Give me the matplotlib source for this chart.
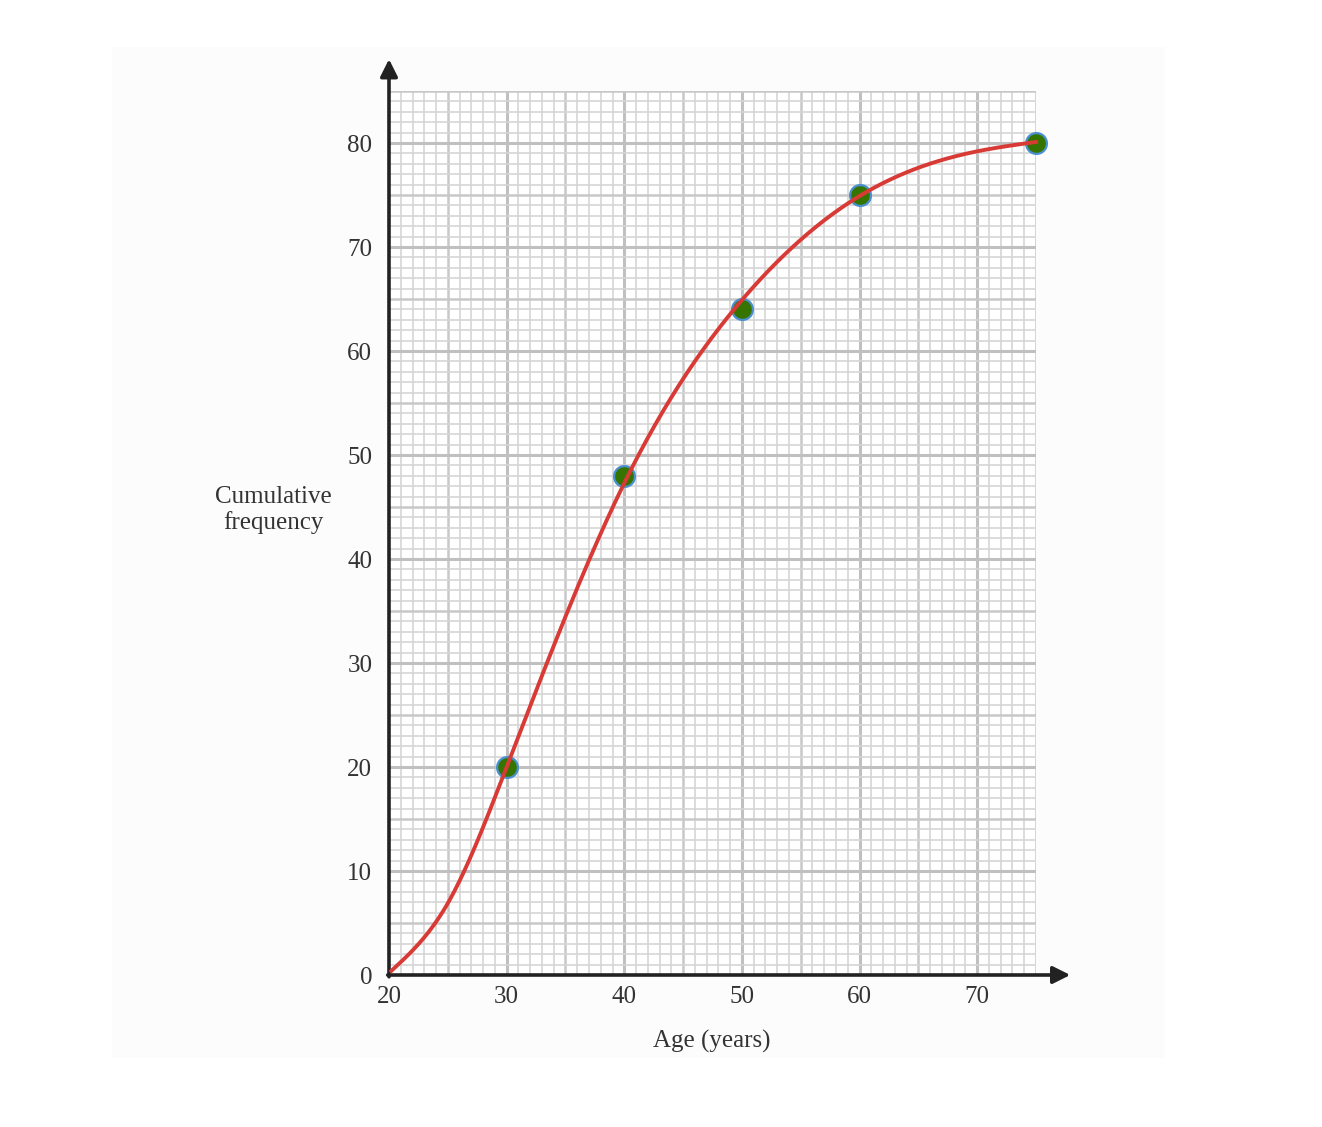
import numpy as np
import matplotlib
matplotlib.use('Agg')
import matplotlib.pyplot as plt
from matplotlib.patches import Rectangle

# data points (age, cumulative frequency)
ages = [30, 40, 50, 60, 75]
cum_freq = [20, 48, 64, 75, 80]

# hand-drawn curve, a few points
curve_x = [20.2, 25, 30, 40, 50, 60, 70, 75]
curve_y = [0.4, 6.9, 20, 47.3, 64.9, 74.9, 79.2, 80.1]

x_ticks = [20, 30, 40, 50, 60, 70]
y_ticks = [0, 10, 20, 30, 40, 50, 60, 70, 80]


def natural_spline(x, y, xn):
    x = np.asarray(x, float)
    y = np.asarray(y, float)
    n = len(x)
    h = np.diff(x)
    A = np.zeros((n, n))
    b = np.zeros(n)
    A[0, 0] = A[-1, -1] = 1
    for i in range(1, n - 1):
        A[i, i - 1] = h[i - 1]
        A[i, i] = 2 * (h[i - 1] + h[i])
        A[i, i + 1] = h[i]
        b[i] = 6 * ((y[i + 1] - y[i]) / h[i] - (y[i] - y[i - 1]) / h[i - 1])
    M = np.linalg.solve(A, b)
    idx = np.clip(np.searchsorted(x, xn) - 1, 0, n - 2)
    hi = h[idx]
    a = (x[idx + 1] - xn) / hi
    c = (xn - x[idx]) / hi
    return (a * y[idx] + c * y[idx + 1]
            + ((a**3 - a) * M[idx] + (c**3 - c) * M[idx + 1]) * hi**2 / 6)


plt.rcParams['font.family'] = ['Liberation Serif', 'DejaVu Serif']

W, H = 1322, 1127
fig = plt.figure(figsize=(W / 100, H / 100), dpi=100)
fig.patches.append(Rectangle((112 / W, 1 - 1058 / H), (1165 - 112) / W, (1058 - 47) / H,
                             transform=fig.transFigure, facecolor='#fcfcfc', edgecolor='none', zorder=-5))

ax = fig.add_axes([389 / W, (H - 975) / H, 647 / W, 884 / H])
ax.set_zorder(2)
ax.set_facecolor('white')
ax.set_xlim(20, 75)
ax.set_ylim(0, 85)

# graph paper grid
for v in np.arange(21, 76):
    if v % 10 == 0:
        ax.axvline(v, color='#c0c0c0', lw=2.2, zorder=1)
    elif v % 5 == 0:
        ax.axvline(v, color='#c8c8c8', lw=1.8, zorder=1)
    else:
        ax.axvline(v, color='#d5d5d5', lw=1.2, zorder=1)
for v in np.arange(1, 86):
    if v % 10 == 0:
        ax.axhline(v, color='#c0c0c0', lw=2.2, zorder=1)
    elif v % 5 == 0:
        ax.axhline(v, color='#c8c8c8', lw=1.8, zorder=1)
    else:
        ax.axhline(v, color='#d5d5d5', lw=1.2, zorder=1)

xs = np.linspace(curve_x[0], curve_x[-1], 400)
ax.plot(ages, cum_freq, 'o', ms=15, mfc='#367400', mec='#4a90d0', mew=1.6, zorder=3, clip_on=False)
ax.plot(xs, natural_spline(curve_x, curve_y, xs), color='#d83a36', lw=2.8, zorder=4, clip_on=False)

for s in ['top', 'right', 'left', 'bottom']:
    ax.spines[s].set_visible(False)
arrow = dict(arrowstyle='-|>', lw=2.6, color='#222222', mutation_scale=26, shrinkA=0, shrinkB=0)
ax.annotate('', xy=(0, 1.036), xytext=(0, -0.002), xycoords='axes fraction', arrowprops=arrow, annotation_clip=False)
ax.annotate('', xy=(1.053, 0), xytext=(-0.002, 0), xycoords='axes fraction', arrowprops=arrow, annotation_clip=False)

ax.set_xticks(x_ticks)
ax.set_xticklabels([str(v) for v in x_ticks])
ax.set_yticks(y_ticks)
ax.set_yticklabels([str(v) for v in y_ticks])
ax.tick_params(axis='both', length=0, labelsize=18, labelcolor='#333333')
ax.tick_params(axis='y', pad=12)
ax.tick_params(axis='x', pad=8)

fig.text(273 / W, 1 - 510 / H, 'Cumulative\nfrequency', ha='center', va='center',
         fontsize=18, color='#333333', linespacing=1.2)
fig.text(712 / W, 1 - 1041 / H, 'Age (years)', ha='center', va='center', fontsize=18, color='#333333')

fig.savefig('out.png', dpi=100)
